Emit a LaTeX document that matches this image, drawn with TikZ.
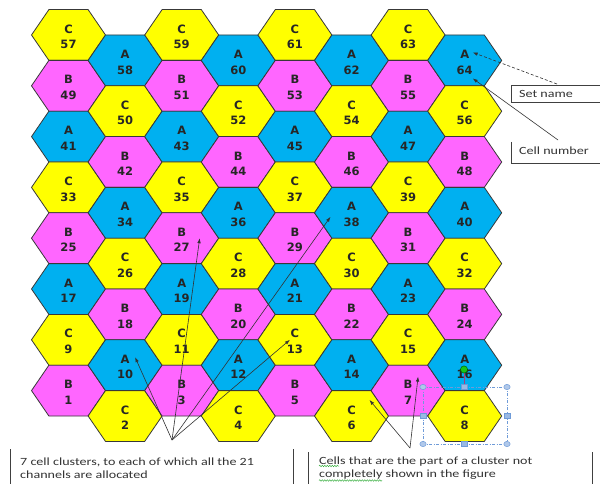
\documentclass[tikz,border=0pt]{standalone}
\usepackage{fontspec}
\usetikzlibrary{arrows.meta,calc,decorations.pathmorphing}
\newfontfamily\hexfont{DejaVu Sans}
\newfontfamily\annfont{Carlito}[FakeStretch=1.28]
\definecolor{hexA}{HTML}{00B0F0}
\definecolor{hexB}{HTML}{FF66FF}
\definecolor{hexC}{HTML}{FFFF00}
\definecolor{edgecol}{HTML}{383838}
\definecolor{selblue}{HTML}{6F9BD8}
\definecolor{spellgreen}{HTML}{3CB043}
\begin{document}
\begin{tikzpicture}[x=1pt,y=-1pt,
  hexedge/.style={draw=edgecol,line width=0.8pt,line join=miter},
  hexlabel/.style={font=\hexfont\bfseries\fontsize{11.5}{12}\selectfont,inner sep=0pt,text=black!85},
  anntext/.style={font=\annfont\fontsize{11}{13}\selectfont,inner sep=0pt,anchor=base west,text=black!80},
  boxline/.style={draw=black!75,line width=0.9pt},
  pointer/.style={draw=black!80,line width=0.6pt,-{Latex[length=5pt,width=3.5pt]}},
  handlecircle/.style={fill=selblue!55,draw=selblue,line width=0.5pt},
  handlesquare/.style={fill=selblue!70,draw=selblue,line width=0.5pt},
  spellwave/.style={draw=spellgreen,line width=0.5pt,decorate,decoration={snake,amplitude=0.7pt,segment length=2.5pt}}
]
\useasboundingbox (0,0) rectangle (600,484);
\fill[white] (0,0) rectangle (600,484);

% hexagonal cells
\foreach \i in {1,...,8}{
  \foreach \r in {0,...,7}{
    \pgfmathsetmacro\cx{68.5+56.6*(\i-1)}
    \pgfmathsetmacro\cy{ifthenelse(mod(\i,2)==1,35+50.8*\r,60.4+50.8*\r)}
    \pgfmathtruncatemacro\num{(7-\r)*8+\i}
    \pgfmathtruncatemacro\li{ifthenelse(mod(\i,2)==1,mod(\r,3),mod(\r+2,3))}
    \ifcase\li \def\lt{C}\def\hcol{hexC}\or \def\lt{B}\def\hcol{hexB}\or \def\lt{A}\def\hcol{hexA}\fi
    \draw[hexedge,fill=\hcol] (\cx-37,\cy) -- (\cx-19.6,\cy-25.4) -- (\cx+19.6,\cy-25.4)
      -- (\cx+37,\cy) -- (\cx+19.6,\cy+25.4) -- (\cx-19.6,\cy+25.4) -- cycle;
    \coordinate (h\num) at (\cx,\cy);
    \node[hexlabel] (l\num) at (\cx,\cy-6) {\lt};
    \node[hexlabel] (n\num) at (\cx,\cy+9.5) {\num};
  }
}

% Set name box
\node[boxline,draw,minimum width=99pt,minimum height=17pt,anchor=north west,inner sep=0pt] (setbox) at (511,85) {};
\node[anntext] (setname) at (519,98) {Set name};
\coordinate (snfrom) at (557,84);
\draw[pointer,dash pattern=on 3pt off 2pt] (snfrom) -- ($(h64)+(8,-8)$);

% Cell number box (left and bottom edges)
\draw[boxline] (511,142) -- (511,163) -- (610,163);
\node[anntext] (cellnum) at (519,155) {Cell number};
\coordinate (cnfrom) at (558,140);
\draw[pointer] (cnfrom) -- ($(h64)+(8,18)$);

% bottom-left annotation
\draw[boxline] (10,449) -- (10,490);
\draw[boxline] (293,449) -- (293,490);
\node[anntext] (clust1) at (20,465) {7 cell clusters, to each of which all the 21};
\node[anntext] (clust2) at (20,478) {channels are allocated};
\coordinate (fanL) at (172,440);
\foreach \t/\dx/\dy in {10/10/-8, 27/18/0, 38/-21/4, 13/-5/0}
  \draw[pointer] (fanL) -- ($(h\t)+(\dx,\dy)$);

% bottom-right annotation
\draw[boxline] (308,452) -- (308,490);
\draw[boxline] (592,452) -- (592,490);
\node[anntext] (part1) at (319,464) {Cells that are the part of a cluster not};
\node[anntext] (part2) at (319,477) {completely shown in the figure};
\draw[spellwave] (319,466) -- (339,466);
\draw[spellwave] (319,480.5) -- (382,480.5);
\coordinate (fanR) at (410,448);
\foreach \t/\dx/\dy in {6/18/-16, 7/10/-14}
  \draw[pointer] (fanR) -- ($(h\t)+(\dx,\dy)$);

% selection handles around cell 8
\draw[selblue,line width=0.7pt,dash pattern=on 3pt off 1.5pt on 1pt off 1.5pt] (423,387) rectangle (507,444);
\draw[draw=magenta!70!black,line width=0.8pt] (464,373) -- (464,384.5);
\foreach \px/\py in {423/387, 507/387, 423/444, 507/444}
  \filldraw[handlecircle] (\px,\py) ellipse (3.2pt and 2.6pt);
\foreach \px/\py in {464/387, 423/415.5, 507/415.5, 464/444}
  \filldraw[handlesquare] (\px-3.2,\py-2.6) rectangle (\px+3.2,\py+2.6);
\filldraw[fill=green!75!black!90,draw=green!40!black,line width=0.5pt] (464,369.5) circle (3.6pt);
\end{tikzpicture}
\end{document}
